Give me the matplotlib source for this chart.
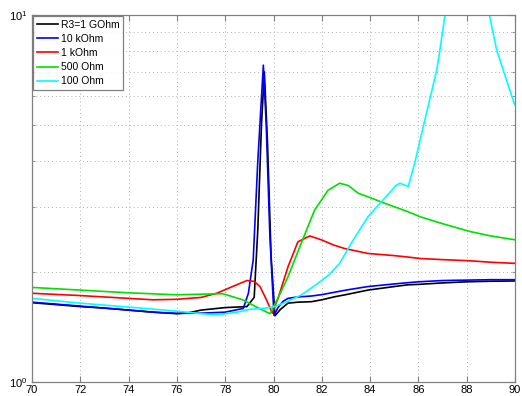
import matplotlib
matplotlib.use("Agg")
import matplotlib.pyplot as plt
from matplotlib.ticker import FixedLocator, NullFormatter, LogFormatterMathtext

plt.rcParams['font.family'] = ['Liberation Sans', 'DejaVu Sans']
plt.rcParams['mathtext.default'] = 'regular'

# ---- data ----
labels = ["R3=1 GOhm", "10 kOhm", "1 kOhm", "500 Ohm", "100 Ohm"]
colors = ["black", "blue", "red", "#00e000", "cyan"]

x_black = [70, 71, 72, 73, 74, 75, 76, 76.5, 77, 78, 78.9, 79.2, 79.35, 79.5, 79.62,
           79.75, 79.9, 80.06, 80.3, 80.6, 81.0, 81.57, 82.0, 82.53, 83.0, 83.91, 85.0,
           85.57, 86.0, 87.0, 88.0, 89.0, 90.0]
y_black = [1.645, 1.625, 1.605, 1.59, 1.57, 1.55, 1.535, 1.545, 1.57, 1.595, 1.605, 1.70,
           2.6, 5.0, 7.0, 4.5, 2.2, 1.515, 1.58, 1.64, 1.65, 1.655, 1.675, 1.707, 1.73,
           1.78, 1.82, 1.84, 1.845, 1.862, 1.875, 1.882, 1.885]

x_blue = [70, 71, 72, 73, 74, 75, 76, 77, 78, 78.75, 78.96, 79.16, 79.35, 79.58, 79.7,
          79.85, 80.02, 80.2, 80.4, 80.6, 81.0, 81.57, 82.0, 83.0, 83.91, 85.0, 85.57,
          86.0, 87.0, 88.0, 89.0, 90.0]
y_blue = [1.65, 1.63, 1.61, 1.59, 1.57, 1.55, 1.538, 1.54, 1.55, 1.587, 1.745, 2.15, 4.0,
          7.3, 5.0, 2.5, 1.52, 1.6, 1.66, 1.69, 1.705, 1.715, 1.73, 1.78, 1.82, 1.85,
          1.865, 1.875, 1.89, 1.895, 1.90, 1.90]

x_red = [70, 72, 74, 75, 76, 77, 77.65, 78.3, 78.9, 79.2, 79.44, 79.7, 79.95, 80.2,
         80.6, 81.01, 81.5, 81.98, 82.5, 82.95, 83.91, 85.0, 85.57, 86.07, 87.0, 88.1,
         89.0, 90.0]
y_red = [1.745, 1.72, 1.69, 1.675, 1.68, 1.70, 1.745, 1.82, 1.89, 1.88, 1.82, 1.68, 1.54,
         1.70, 2.06, 2.41, 2.50, 2.44, 2.36, 2.31, 2.24, 2.21, 2.19, 2.17, 2.155, 2.14,
         2.12, 2.105]

x_green = [70, 72, 74, 76, 77, 77.9, 78.75, 79.3, 79.85, 80.2, 80.6, 81.15, 81.7, 82.26,
           82.74, 83.1, 83.5, 84.0, 84.6, 85.57, 86.07, 87.0, 88.14, 89.0, 90.0]
y_green = [1.81, 1.78, 1.75, 1.728, 1.735, 1.74, 1.673, 1.60, 1.535, 1.70, 1.935, 2.39,
           2.94, 3.33, 3.48, 3.43, 3.27, 3.18, 3.07, 2.91, 2.82, 2.70, 2.57, 2.50, 2.44]

x_cyan = [70, 72, 74, 76, 77, 77.65, 78.5, 79.03, 79.7, 80.05, 80.6, 81.15, 81.84, 82.3,
          82.74, 83.22, 83.91, 84.53, 85.09, 85.24, 85.58, 85.86, 86.2, 86.5, 86.76, 86.89,
          87.1, 87.5, 88.0, 88.5, 88.94, 89.24, 89.6, 89.97, 90.0]
y_cyan = [1.69, 1.64, 1.60, 1.56, 1.535, 1.525, 1.55, 1.578, 1.59, 1.605, 1.66, 1.726,
          1.857, 1.96, 2.105, 2.39, 2.82, 3.13, 3.44, 3.48, 3.41, 3.98, 4.96, 6.0, 7.09,
          8.03, 10.0, 13.0, 16.0, 14.0, 10.0, 8.03, 6.8, 5.74, 5.7]

series_x = [x_black, x_blue, x_red, x_green, x_cyan]
series_y = [y_black, y_blue, y_red, y_green, y_cyan]

xticks = [70, 72, 74, 76, 78, 80, 82, 84, 86, 88, 90]

# ---- figure ----
fig = plt.figure(figsize=(5.22, 3.96), dpi=100)
ax = fig.add_axes([32/522, 1-382/396, (515-32)/522, (382-15)/396])

for xs, ys, c, lab in zip(series_x, series_y, colors, labels):
    ax.plot(xs, ys, color=c, lw=1.2, label=lab)

ax.set_yscale('log')
ax.set_xlim(70, 90)
ax.set_ylim(1, 10)
ax.set_xticks(xticks)
ax.set_xticklabels([str(t) for t in xticks])
ax.yaxis.set_major_locator(FixedLocator([1, 10]))
ax.yaxis.set_major_formatter(LogFormatterMathtext())
ax.yaxis.set_minor_locator(FixedLocator([2, 3, 4, 5, 6, 7, 8, 9]))
ax.yaxis.set_minor_formatter(NullFormatter())

ax.grid(True, which='major', axis='x', color='#b0b0b0', linestyle=(0, (1, 3)), lw=0.7)
ax.grid(True, which='minor', axis='y', color='#b0b0b0', linestyle=(0, (1, 3)), lw=0.7)

for s in ax.spines.values():
    s.set_color('#808080')
    s.set_linewidth(0.9)
ax.tick_params(which='both', direction='in', top=True, right=True, color='#808080',
               labelsize=8)
ax.tick_params(axis='x', pad=2.5)
ax.tick_params(axis='y', pad=3.5)
ax.tick_params(which='major', length=4)
ax.tick_params(which='minor', length=2)

leg = ax.legend(loc='upper left', fontsize=7.5, frameon=True, fancybox=False,
                edgecolor='#606060', borderpad=0.35, labelspacing=0.4,
                handlelength=2.0, handletextpad=0.3, borderaxespad=0.1)
leg.get_frame().set_linewidth(0.9)

fig.savefig('out.png', dpi=100)
